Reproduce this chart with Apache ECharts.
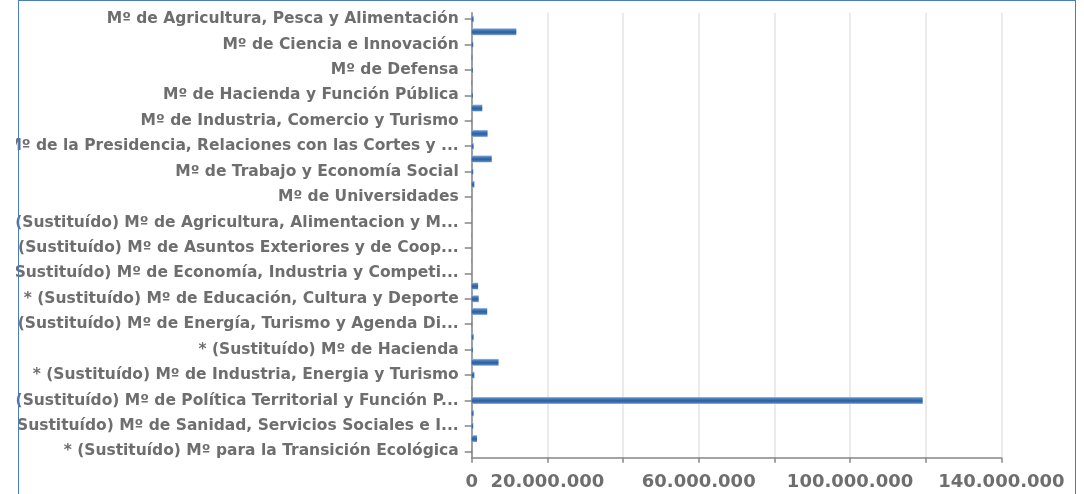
<!DOCTYPE html>
<html>
<head>
<meta charset="utf-8">
<script src="https://cdn.jsdelivr.net/npm/echarts@6/dist/echarts.min.js"></script>
<style>
  html, body { margin: 0; padding: 0; background: #ffffff; width: 1084px; height: 494px; overflow: hidden; }
  #chart { position: absolute; left: 16px; top: 0; width: 1068px; height: 494px; }
  #frame { position: absolute; left: 18px; top: 0; width: 1058px; height: 600px; border: 1.5px solid #4a7ebb; box-sizing: border-box; pointer-events: none; }
</style>
</head>
<body>
<div id="chart"></div>
<div id="frame"></div>
<script>
// Categories (top to bottom); every other label is shown, as in the reference
var categories = [
  "Mº de Agricultura, Pesca y Alimentación",
  "Mº de Asuntos Económicos y Transformación Digital",
  "Mº de Ciencia e Innovación",
  "Mº de Cultura y Deporte",
  "Mº de Defensa",
  "Mº de Educación y Formación Profesional",
  "Mº de Hacienda y Función Pública",
  "Mº de Igualdad",
  "Mº de Industria, Comercio y Turismo",
  "Mº de Justicia",
  "Mº de la Presidencia, Relaciones con las Cortes y ...",
  "Mº de Política Territorial",
  "Mº de Trabajo y Economía Social",
  "Mº de Transportes, Movilidad y Agenda Urbana",
  "Mº de Universidades",
  "Mº del Interior",
  "* (Sustituído) Mº de Agricultura, Alimentacion y M...",
  "* (Sustituído) Mº de Agricultura, Pesca y Alimentación",
  "* (Sustituído) Mº de Asuntos Exteriores y de Coop...",
  "* (Sustituído) Mº de Ciencia, Innovación y Universidades",
  "* (Sustituído) Mº de Economía, Industria y Competi...",
  "* (Sustituído) Mº de Economía y Empresa",
  "* (Sustituído) Mº de Educación, Cultura y Deporte",
  "* (Sustituído) Mº de Empleo y Seguridad Social",
  "* (Sustituído) Mº de Energía, Turismo y Agenda Di...",
  "* (Sustituído) Mº de Fomento",
  "* (Sustituído) Mº de Hacienda",
  "* (Sustituído) Mº de Hacienda y Función Pública",
  "* (Sustituído) Mº de Industria, Energia y Turismo",
  "* (Sustituído) Mº de Justicia",
  "* (Sustituído) Mº de Política Territorial y Función P...",
  "* (Sustituído) Mº de Sanidad, Consumo y Bienestar Social",
  "* (Sustituído) Mº de Sanidad, Servicios Sociales e I...",
  "* (Sustituído) Mº de Trabajo, Migraciones y Seguridad Social",
  "* (Sustituído) Mº para la Transición Ecológica"
];

// Values (euros)
var values = [
  500000, 11800000, 400000, 150000, 300000, 100000, 300000, 2800000,
  100000, 4200000, 500000, 5300000, 400000, 700000, 50000, 50000,
  50000, 50000, 50000, 50000, 50000, 1700000, 1850000, 4100000,
  100000, 500000, 300000, 7100000, 700000, 100000, 119200000, 500000,
  400000, 1400000, 100000
];

// X axis tick labels (0 .. 140.000.000 step 20.000.000; some hidden as in the reference)
var tickLabels = ["0", "20.000.000", "", "60.000.000", "", "100.000.000", "", "140.000.000"];
var axisMax = 140000000;
var axisStep = 20000000;

var chart = echarts.init(document.getElementById('chart'), null, { renderer: 'canvas' });
var labelColor = '#6e6e6e';
var fontFam = '"DejaVu Sans", Verdana, sans-serif';

chart.setOption({
  animation: false,
  grid: { left: 455.7, top: 12.7, width: 529.7, height: 445, containLabel: false, outerBoundsMode: 'none' },
  xAxis: {
    type: 'value',
    min: 0,
    max: axisMax,
    interval: axisStep,
    axisLine: { show: true, lineStyle: { color: '#868686', width: 1.5 } },
    axisTick: { show: true, length: 5, lineStyle: { color: '#868686', width: 1.5 } },
    splitLine: { show: true, lineStyle: { color: '#e4e4e4', width: 1.5 } },
    axisLabel: {
      color: labelColor, fontFamily: fontFam, fontWeight: 'bold', fontSize: 18, margin: 16,
      formatter: function (v) { var i = Math.round(v / axisStep); return tickLabels[i] !== undefined ? tickLabels[i] : ''; }
    }
  },
  yAxis: {
    type: 'category',
    inverse: true,
    data: categories,
    axisLine: { show: true, lineStyle: { color: '#868686', width: 1.5 } },
    axisTick: { show: true, alignWithLabel: true, interval: 1, length: 7, lineStyle: { color: '#868686', width: 1.5 } },
    splitLine: { show: false },
    axisLabel: {
      interval: 1, color: labelColor, fontFamily: fontFam, fontWeight: 'bold', fontSize: 15.5, margin: 13,
      padding: [2, 0, 0, 0]
    }
  },
  series: [{
    type: 'bar',
    data: values,
    barWidth: 7,
    itemStyle: {
      color: new echarts.graphic.LinearGradient(0, 0, 0, 1, [
        { offset: 0, color: '#a9c5ea' },
        { offset: 0.2, color: '#4f83c4' },
        { offset: 0.55, color: '#2f5e99' },
        { offset: 0.85, color: '#4a7ebf' },
        { offset: 1, color: '#a9c5ea' }
      ])
    }
  }]
});
</script>
</body>
</html>
